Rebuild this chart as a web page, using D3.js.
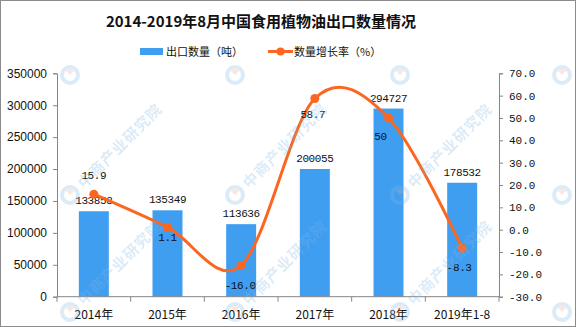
<!DOCTYPE html>
<html><head><meta charset="utf-8">
<script src="https://cdn.jsdelivr.net/npm/d3@7"></script>
<style>body{margin:0;background:#fff}svg{display:block}</style>
</head><body>
<svg id="chart" width="576" height="327"></svg>
<script>
// Edible vegetable oil exports, 2014 – Aug 2019
const categories = ["2014年", "2015年", "2016年", "2017年", "2018年", "2019年1-8"];
const exportVolume = [133858, 135349, 113636, 200055, 294727, 178532];
const growthRate = [15.9, 1.1, -16.0, 58.7, 50, -8.3];
const rateLabels = ["15.9", "1.1", "-16.0", "58.7", "50", "-8.3"];
const volumeTicks = [0, 50000, 100000, 150000, 200000, 250000, 300000, 350000];
const rateTicks = [-30, -20, -10, 0, 10, 20, 30, 40, 50, 60, 70];

const W = 576, H = 327;
const plot = {left: 57, right: 499, top: 73.3, bottom: 296.7};
const BLUE = "#409ef1", ORANGE = "#fb6621", AXIS = "#868686";
const MONO = "'Liberation Mono','DejaVu Sans Mono',monospace";
const CJK = "'Noto Sans CJK SC','Noto Sans',sans-serif";

const svg = d3.select("#chart");

const x = d3.scaleBand().domain(categories).range([plot.left, plot.right]);
const yVol = d3.scaleLinear().domain([0, 350000]).range([plot.bottom, plot.top]);
const yRate = d3.scaleLinear().domain([-30, 70]).range([plot.bottom, plot.top]);
const cx = c => x(c) + x.bandwidth() / 2;

// outer frame
svg.append("rect").attr("x", 0.5).attr("y", 0.5).attr("width", W - 1).attr("height", H - 1)
  .attr("fill", "#fff").attr("stroke", "#8c8c8c");

// title
svg.append("text").attr("x", 261).attr("y", 27).attr("text-anchor", "middle")
  .attr("font-family", CJK).attr("font-weight", "bold").attr("font-size", 15).attr("fill", "#111")
  .text("2014-2019年8月中国食用植物油出口数量情况");

// legend
const lg = svg.append("g").attr("font-family", CJK).attr("font-size", 11).attr("fill", "#111");
lg.append("rect").attr("x", 140).attr("y", 48).attr("width", 23).attr("height", 7).attr("fill", BLUE);
lg.append("text").attr("x", 166).attr("y", 55.5).text("出口数量（吨）");
lg.append("line").attr("x1", 268).attr("x2", 293).attr("y1", 51.5).attr("y2", 51.5)
  .attr("stroke", ORANGE).attr("stroke-width", 3);
lg.append("circle").attr("cx", 280.5).attr("cy", 51.5).attr("r", 4).attr("fill", ORANGE);
lg.append("text").attr("x", 294).attr("y", 55.5).text("数量增长率（%）");

// bars
svg.append("g").selectAll("rect").data(exportVolume).join("rect")
  .attr("x", (d, i) => cx(categories[i]) - 15)
  .attr("width", 30)
  .attr("y", d => yVol(d))
  .attr("height", d => yVol(0) - yVol(d))
  .attr("fill", BLUE);

// left axis
const axL = svg.append("g").attr("transform", `translate(${plot.left},0)`)
  .call(d3.axisLeft(yVol).tickValues(volumeTicks).tickSize(4).tickPadding(6).tickFormat(d3.format("d")));
axL.selectAll("path,line").attr("stroke", AXIS);
axL.selectAll("text").attr("font-family", "'Liberation Sans',Arial,sans-serif").attr("font-size", 12).attr("fill", "#111");

// right axis
const axR = svg.append("g").attr("transform", `translate(${plot.right},0)`)
  .call(d3.axisRight(yRate).tickValues(rateTicks).tickSize(4).tickPadding(6).tickFormat(v => v.toFixed(1)));
axR.selectAll("path,line").attr("stroke", AXIS);
axR.selectAll("text").attr("font-family", MONO).attr("font-size", 11).attr("fill", "#111");

// bottom axis with ticks between categories
const axB = svg.append("g").attr("transform", `translate(0,${plot.bottom})`);
axB.append("line").attr("x1", plot.left).attr("x2", plot.right).attr("stroke", AXIS);
axB.selectAll("line.tk").data(d3.range(categories.length + 1)).join("line").attr("class", "tk")
  .attr("x1", i => plot.left + i * x.step()).attr("x2", i => plot.left + i * x.step())
  .attr("y1", 0).attr("y2", 5).attr("stroke", AXIS);
axB.selectAll("text").data(categories).join("text")
  .attr("x", c => cx(c)).attr("y", 22).attr("text-anchor", "middle")
  .attr("font-family", CJK).attr("font-size", 12).attr("fill", "#111").text(c => c);

// bar value labels
svg.append("g").selectAll("text").data(exportVolume).join("text")
  .attr("x", (d, i) => cx(categories[i])).attr("y", d => yVol(d) - 7)
  .attr("text-anchor", "middle").attr("font-family", MONO).attr("font-size", 11)
  .attr("letter-spacing", -0.4).attr("fill", "#111").text(d => d);

// growth-rate line
const pts = growthRate.map((v, i) => [cx(categories[i]), yRate(v)]);
svg.append("path").attr("d", d3.line().curve(d3.curveCardinal.tension(0))(pts))
  .attr("fill", "none").attr("stroke", ORANGE).attr("stroke-width", 3);
svg.append("g").selectAll("circle").data(pts).join("circle")
  .attr("cx", p => p[0]).attr("cy", p => p[1]).attr("r", 4.5).attr("fill", ORANGE);

// growth-rate labels: first one above its point, the rest below
const rateOffset = [[0, -15], [0, 14], [-1, 24], [-2, 19], [-8, 22], [-3, 23]];
svg.append("g").selectAll("text").data(rateLabels).join("text")
  .attr("x", (d, i) => pts[i][0] + rateOffset[i][0]).attr("y", (d, i) => pts[i][1] + rateOffset[i][1])
  .attr("text-anchor", "middle").attr("font-family", MONO).attr("font-size", 11)
  .attr("letter-spacing", -0.4).attr("fill", "#111").text(d => d);

// faint brand watermark: logo marks in a grid, wordmark only where it fits inside the frame
const wm = svg.append("g").attr("opacity", 0.28).attr("pointer-events", "none");
const cols = [70, 235, 400, 562], rows = [75, 195, 312];
rows.forEach(ry => cols.forEach(wx => {
  const g = wm.append("g").attr("transform", `translate(${wx},${ry}) rotate(-45)`);
  g.append("circle").attr("r", 8).attr("fill", "none").attr("stroke", "#7fb6e4").attr("stroke-width", 4);
  g.append("path").attr("d", d3.arc()({innerRadius: 0, outerRadius: 6, startAngle: 0, endAngle: Math.PI / 2}))
    .attr("fill", "#f4a58a");
  if (ry > 100 && wx < 480) {
    g.append("text").attr("x", 14).attr("y", 6).attr("font-family", CJK).attr("font-weight", "bold")
      .attr("font-size", 15).attr("fill", "#7fb6e4").attr("letter-spacing", 1).text("中商产业研究院");
  }
}));
</script>
</body></html>
